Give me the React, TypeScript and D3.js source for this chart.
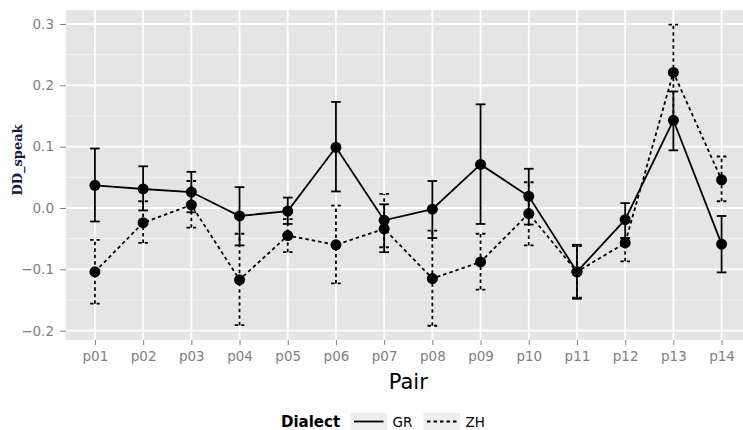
import React, { useEffect, useRef } from 'react';
import * as d3 from 'd3';

const pairs = ['p01', 'p02', 'p03', 'p04', 'p05', 'p06', 'p07', 'p08', 'p09', 'p10', 'p11', 'p12', 'p13', 'p14'];

const grMean = [0.037, 0.031, 0.026, -0.013, -0.005, 0.099, -0.020, -0.002, 0.071, 0.019, -0.104, -0.019, 0.143, -0.059];
const grLow = [-0.022, -0.004, -0.007, -0.061, -0.026, 0.027, -0.072, -0.049, -0.026, -0.027, -0.148, -0.049, 0.094, -0.105];
const grHigh = [0.097, 0.068, 0.059, 0.034, 0.017, 0.173, 0.006, 0.044, 0.169, 0.064, -0.060, 0.008, 0.190, -0.013];

const zhMean = [-0.104, -0.024, 0.005, -0.117, -0.045, -0.060, -0.034, -0.115, -0.088, -0.009, -0.104, -0.057, 0.221, 0.046];
const zhLow = [-0.156, -0.057, -0.032, -0.191, -0.072, -0.123, -0.064, -0.192, -0.133, -0.061, -0.146, -0.087, 0.143, 0.011];
const zhHigh = [-0.052, 0.011, 0.044, -0.042, -0.018, 0.004, 0.023, -0.037, -0.042, 0.042, -0.062, -0.049, 0.299, 0.084];

const yTicks = [-0.2, -0.1, 0.0, 0.1, 0.2, 0.3];
const yMinor = [-0.15, -0.05, 0.05, 0.15, 0.25];

const series = [
  { name: 'GR', mean: grMean, low: grLow, high: grHigh, dash: null },
  { name: 'ZH', mean: zhMean, low: zhLow, high: zhHigh, dash: '3.5,3' },
];

const App = () => {
  const ref = useRef<SVGSVGElement>(null);

  useEffect(() => {
    const svg = d3.select(ref.current);
    svg.selectAll('*').remove();

    const panel = { left: 66, right: 750.5, top: 10, bottom: 340 };
    const sans = 'DejaVu Sans, sans-serif';

    const x = d3.scalePoint<string>()
      .domain(pairs)
      .range([panel.left, panel.right])
      .padding(0.6);

    const y = d3.scaleLinear()
      .domain([-0.2152, 0.3228])
      .range([panel.bottom, panel.top]);

    // panel background + grid
    svg.append('rect')
      .attr('x', panel.left).attr('y', panel.top)
      .attr('width', panel.right - panel.left).attr('height', panel.bottom - panel.top)
      .attr('fill', '#E5E5E5');

    svg.append('g').selectAll('line').data(yMinor).join('line')
      .attr('x1', panel.left).attr('x2', panel.right)
      .attr('y1', d => y(d)).attr('y2', d => y(d))
      .attr('stroke', '#F2F2F2').attr('stroke-width', 1);

    svg.append('g').selectAll('line').data(yTicks).join('line')
      .attr('x1', panel.left).attr('x2', panel.right)
      .attr('y1', d => y(d)).attr('y2', d => y(d))
      .attr('stroke', '#fff').attr('stroke-width', 1.8);

    svg.append('g').selectAll('line').data(pairs).join('line')
      .attr('x1', d => x(d)).attr('x2', d => x(d))
      .attr('y1', panel.top).attr('y2', panel.bottom)
      .attr('stroke', '#fff').attr('stroke-width', 1.8);

    // axes
    const yAxis = d3.axisLeft(y).tickValues(yTicks).tickSize(6).tickPadding(6)
      .tickFormat(d => d3.format('.1f')(d as number).replace('-', '\u2212'));
    const gy = svg.append('g').attr('transform', `translate(${panel.left},0)`).call(yAxis);
    gy.select('.domain').remove();
    gy.selectAll('line').attr('stroke', '#7F7F7F');
    gy.selectAll('text').attr('fill', '#7F7F7F').attr('font-family', sans).attr('font-size', 13.5);

    const xAxis = d3.axisBottom(x).tickSize(5).tickPadding(6);
    const gx = svg.append('g').attr('transform', `translate(0,${panel.bottom})`).call(xAxis);
    gx.select('.domain').remove();
    gx.selectAll('line').attr('stroke', '#7F7F7F');
    gx.selectAll('text').attr('fill', '#7F7F7F').attr('font-family', sans).attr('font-size', 13.5);

    svg.append('text')
      .attr('x', (panel.left + panel.right) / 2).attr('y', 388.5)
      .attr('text-anchor', 'middle')
      .attr('font-family', sans).attr('font-size', 21)
      .text('Pair');

    svg.append('text')
      .attr('transform', 'translate(21.5,160) rotate(-90)')
      .attr('text-anchor', 'middle')
      .attr('font-family', 'DejaVu Serif, serif').attr('font-weight', 'bold').attr('font-size', 13)
      .attr('fill', '#1a1a40')
      .text('DD_speak');

    // data layers
    const half = x.step() * 0.1;
    const line = d3.line<number>()
      .x((d, i) => x(pairs[i]))
      .y(d => y(d));

    series.forEach(s => {
      const g = svg.append('g');
      g.append('path')
        .datum(s.mean)
        .attr('fill', 'none')
        .attr('stroke', '#000')
        .attr('stroke-width', 1.8)
        .attr('stroke-dasharray', s.dash)
        .attr('d', line);

      const eb = g.selectAll('g.eb').data(pairs).join('g').attr('class', 'eb');
      eb.append('line')
        .attr('x1', d => x(d)).attr('x2', d => x(d))
        .attr('y1', (d, i) => y(s.low[i])).attr('y2', (d, i) => y(s.high[i]));
      eb.append('line')
        .attr('x1', d => x(d) - half).attr('x2', d => x(d) + half)
        .attr('y1', (d, i) => y(s.low[i])).attr('y2', (d, i) => y(s.low[i]));
      eb.append('line')
        .attr('x1', d => x(d) - half).attr('x2', d => x(d) + half)
        .attr('y1', (d, i) => y(s.high[i])).attr('y2', (d, i) => y(s.high[i]));
      eb.selectAll('line')
        .attr('stroke', '#000')
        .attr('stroke-width', 1.8)
        .attr('stroke-dasharray', s.dash);

      g.selectAll('circle').data(s.mean).join('circle')
        .attr('cx', (d, i) => x(pairs[i]))
        .attr('cy', d => y(d))
        .attr('r', 5.5)
        .attr('fill', '#000');
    });

    // legend
    const lg = svg.append('g');
    lg.append('text')
      .attr('x', 281).attr('y', 427)
      .attr('font-family', sans).attr('font-weight', 'bold').attr('font-size', 15)
      .text('Dialect');
    const keyX = [350.5, 423.5];
    series.forEach((s, i) => {
      lg.append('rect')
        .attr('x', keyX[i]).attr('y', 413).attr('width', 36.5).attr('height', 30)
        .attr('fill', '#EEEEEE');
      lg.append('line')
        .attr('x1', keyX[i] + 3.5).attr('x2', keyX[i] + 33)
        .attr('y1', 421.5).attr('y2', 421.5)
        .attr('stroke', '#000').attr('stroke-width', 1.8)
        .attr('stroke-dasharray', s.dash);
      lg.append('text')
        .attr('x', keyX[i] + 42).attr('y', 427)
        .attr('font-family', sans).attr('font-size', 13.5)
        .text(s.name);
    });
  }, []);

  return (
    <svg
      ref={ref}
      width="743"
      height="430"
      style={{ position: 'absolute', left: 0, top: 0, background: '#fff' }}
    ></svg>
  );
};

export default App;
